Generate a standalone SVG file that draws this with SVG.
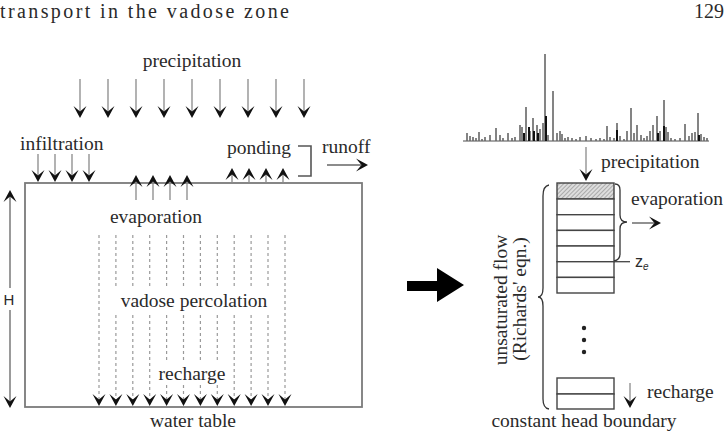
<svg xmlns="http://www.w3.org/2000/svg" width="727" height="431" viewBox="0 0 727 431">
<style>
.t{font-family:"Liberation Serif","Times New Roman",serif;font-size:19.5px;fill:#2a2a2a}
.s{font-family:"Liberation Sans",Arial,sans-serif;fill:#2a2a2a}
.sh{stroke:#8a8a8a;stroke-width:1.3;fill:none}
.dash{stroke:#9a9a9a;stroke-width:1.2;stroke-dasharray:3 3;fill:none}
.hd{fill:#111}
.cell{fill:#fff;stroke:#444;stroke-width:1.4}
.br{fill:none;stroke:#333;stroke-width:1.3}
</style>
<defs>
<path id="hd" class="hd" d="M0,0 L-6.5,-12 L0,-6.5 L6.5,-12 Z"/>
<path id="hu" class="hd" d="M0,0 L-6.5,12 L0,6.5 L6.5,12 Z"/>
<path id="hr" class="hd" d="M0,0 L-12,-6.5 L-6.5,0 L-12,6.5 Z"/>
<pattern id="hatch" width="3" height="3" patternUnits="userSpaceOnUse" patternTransform="rotate(45)">
<rect width="3" height="3" fill="#ddd"/>
<line x1="0" y1="0" x2="0" y2="3" stroke="#888" stroke-width="1.2"/>
</pattern>
</defs>
<rect width="727" height="431" fill="#fff"/>

<g id="header">
<text class="t" x="0" y="18" style="font-size:20px" textLength="289" lengthAdjust="spacing">transport in the vadose zone</text>
<text class="t" x="694" y="18" style="font-size:20px">129</text>
</g>

<g id="vadose-box">
<rect x="25" y="183" width="337" height="224" fill="none" stroke="#7a7a7a" stroke-width="1.8"/>
</g>

<g id="labels-left">
<text class="t" x="192" y="67" text-anchor="middle">precipitation</text>
<text class="t" x="20" y="150">infiltration</text>
<text class="t" x="227" y="154">ponding</text>
<text class="t" x="322" y="153">runoff</text>
<text class="t" x="156" y="223" text-anchor="middle">evaporation</text>
<text class="t" x="194" y="307" text-anchor="middle">vadose percolation</text>
<text class="t" x="192" y="380" text-anchor="middle">recharge</text>
<text class="t" x="193" y="426.5" text-anchor="middle">water table</text>
<text class="s" x="9" y="305" text-anchor="middle" style="font-size:15px">H</text>
</g>

<g id="connectors-left">
<path class="sh" d="M80,79V112M108,79V112M136,79V112M164,79V112M192,79V112M220,79V112M248,79V112M276,79V112M304,79V112"/>
<use href="#hd" x="80" y="118"/><use href="#hd" x="108" y="118"/><use href="#hd" x="136" y="118"/><use href="#hd" x="164" y="118"/><use href="#hd" x="192" y="118"/><use href="#hd" x="220" y="118"/><use href="#hd" x="248" y="118"/><use href="#hd" x="276" y="118"/><use href="#hd" x="304" y="118"/>
<path class="sh" d="M38,154V176M55,154V176M72,154V176M89,154V176"/>
<use href="#hd" x="38" y="182"/><use href="#hd" x="55" y="182"/><use href="#hd" x="72" y="182"/><use href="#hd" x="89" y="182"/>
<path class="sh" d="M136,181V200M153,181V200M170,181V200M187,181V200"/>
<use href="#hu" x="136" y="175"/><use href="#hu" x="153" y="175"/><use href="#hu" x="170" y="175"/><use href="#hu" x="187" y="175"/>
<path class="sh" d="M232,174V183M249,174V183M266,174V183M283,174V183"/>
<use href="#hu" x="232" y="168"/><use href="#hu" x="249" y="168"/><use href="#hu" x="266" y="168"/><use href="#hu" x="283" y="168"/>
<path d="M298,146H311V176H298" fill="none" stroke="#555" stroke-width="1.6"/>
<path class="sh" d="M327,165H361" style="stroke:#666"/>
<use href="#hr" x="368" y="165"/>
<path class="sh" d="M10,196V288M10,310V402" style="stroke:#666"/>
<use href="#hu" x="10" y="190"/><use href="#hd" x="10" y="408"/>
<path class="dash" d="M99,235V400M285,235V400"/>
<path class="dash" d="M115.9,235V288M132.8,235V288M149.7,235V288M166.6,235V288M183.5,235V288M200.4,235V288M217.3,235V288M234.2,235V288M251.1,235V288M268,235V288"/>
<path class="dash" d="M115.9,315V400M132.8,315V400M149.7,315V400M234.2,315V400M251.1,315V400M268,315V400"/>
<path class="dash" d="M166.6,315V363M183.5,315V363M200.4,315V363M217.3,315V363M166.6,385V400M183.5,385V400M200.4,385V400M217.3,385V400"/>
<use href="#hd" x="99" y="406"/><use href="#hd" x="115.9" y="406"/><use href="#hd" x="132.8" y="406"/><use href="#hd" x="149.7" y="406"/><use href="#hd" x="166.6" y="406"/><use href="#hd" x="183.5" y="406"/><use href="#hd" x="200.4" y="406"/><use href="#hd" x="217.3" y="406"/><use href="#hd" x="234.2" y="406"/><use href="#hd" x="251.1" y="406"/><use href="#hd" x="268" y="406"/><use href="#hd" x="285" y="406"/>
</g>

<g id="big-arrow">
<path d="M407,281H437V268L464,285L437,302V291H407Z" fill="#000"/>
</g>

<g id="rain-series">
<path d="M463,141H709" stroke="#888" stroke-width="1.5"/>
<path fill="none" stroke="#666" stroke-width="1.6" d="M545,141V54M553,141V91M526,141V107M533,141V118M537,141V125M540,141V129M522,141V127M520,141V125M530,141V131M543,141V123M557,141V133M560,141V131M562,141V134M496,141V128M479,141V132M467,141V133M470,141V136M473,141V137M485,141V137M490,141V135M500,141V135M508,141V133M515,141V137M568,141V137M572,141V138M580,141V137M586,141V136M591,141V138M600,141V138M607,141V126M610,141V137M617,141V123M620,141V136M627,141V131M631,141V108M634,141V133M637,141V125M641,141V135M650,141V131M653,141V125M657,141V116M660,141V131M664,141V100M666,141V127M668,141V132M671,141V138M680,141V138M685,141V124M689,141V136M692,141V133M695,141V132M698,141V113M701,141V134M704,141V137M476,141V138M482,141V139M503,141V138M512,141V138M548,141V135M565,141V138M576,141V139M596,141V139M604,141V139M614,141V138M624,141V139M644,141V138M647,141V136M675,141V139M707,141V138"/>
<path fill="none" stroke="#111" stroke-width="2" d="M546,141V116M529,141V127M534,141V131M524,141V133M664,141V126M617,141V130M658,141V133M699,141V135M538,141V133"/>
</g>

<g id="labels-right">
<text class="t" x="601" y="168">precipitation</text>
<text class="t" x="631" y="205">evaporation</text>
<text class="t" x="647" y="398">recharge</text>
<text class="t" x="584" y="426.5" text-anchor="middle">constant head boundary</text>
<text class="s" x="635" y="267" style="font-size:16px">z<tspan dy="3" style="font-size:10px;font-style:italic">e</tspan></text>
<text class="t" transform="translate(507,300) rotate(-90)" text-anchor="middle">unsaturated flow</text>
<text class="t" transform="translate(526,299) rotate(-90)" text-anchor="middle">(Richards' eqn.)</text>
</g>

<g id="soil-column">
<rect x="557" y="183" width="57" height="16" fill="url(#hatch)" stroke="#444" stroke-width="1.4"/>
<rect class="cell" x="557" y="199" width="57" height="15.7"/>
<rect class="cell" x="557" y="214.7" width="57" height="15.7"/>
<rect class="cell" x="557" y="230.4" width="57" height="15.6"/>
<rect class="cell" x="557" y="246" width="57" height="15.7"/>
<rect class="cell" x="557" y="261.7" width="57" height="15.7"/>
<rect class="cell" x="557" y="277.4" width="57" height="15.6"/>
<circle cx="584" cy="328" r="2.2" fill="#222"/>
<circle cx="584" cy="340" r="2.2" fill="#222"/>
<circle cx="584" cy="352" r="2.2" fill="#222"/>
<rect class="cell" x="557" y="378" width="57" height="16"/>
<rect class="cell" x="557" y="394" width="57" height="15"/>
</g>

<g id="connectors-right">
<path class="sh" d="M586,147V174"/>
<use href="#hd" x="586" y="181"/>
<path class="sh" d="M630,383V401"/>
<use href="#hd" x="630" y="408"/>
<path class="sh" d="M632,223H654" style="stroke:#555"/>
<use href="#hr" x="661" y="223"/>
<path class="br" d="M615,184Q620,184 620,190V215Q620,222 627,222Q620,222 620,229V254Q620,260 614,261"/>
<path d="M614,261.7H630" stroke="#444" stroke-width="1.3"/>
<path class="br" d="M549,185Q543,186 543,196V288Q543,297 538,297Q543,297 543,306V399Q543,408 549,409"/>
</g>
</svg>
